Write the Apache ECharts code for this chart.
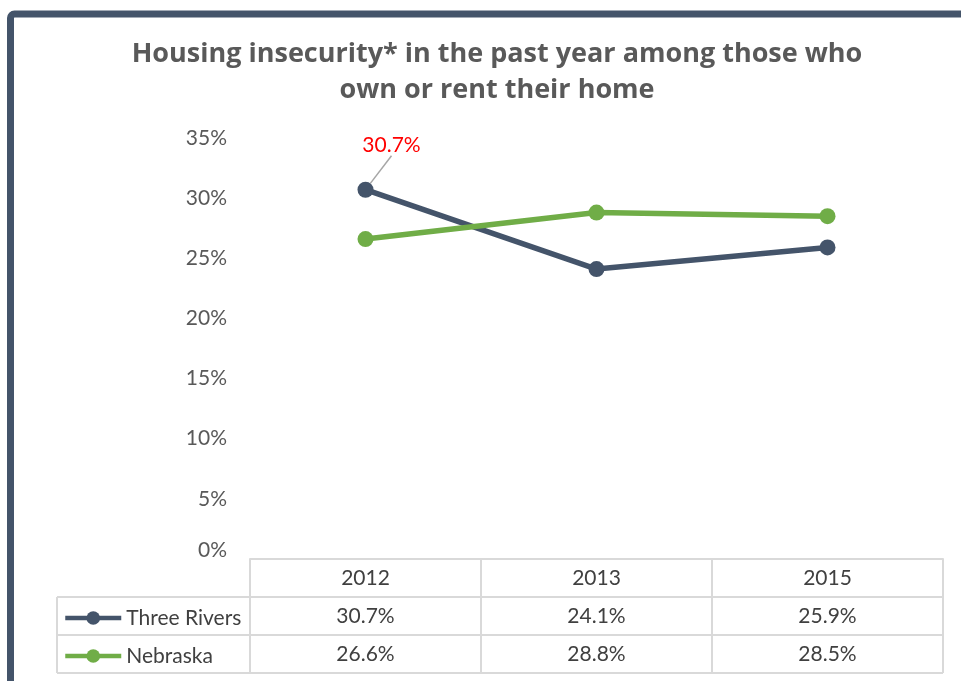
<!DOCTYPE html>
<html>
<head>
<meta charset="utf-8">
<script src="https://cdn.jsdelivr.net/npm/echarts@6/dist/echarts.min.js"></script>
<style>
  html, body { margin: 0; padding: 0; background: #fff; }
  #chart { width: 961px; height: 681px; }
</style>
</head>
<body>
<div id="chart"></div>
<script>
// Survey years and the share of respondents reporting housing insecurity (%)
const years = ['2012', '2013', '2015'];
const threeRivers = [30.7, 24.1, 25.9];
const nebraska = [26.6, 28.8, 28.5];
const seriesNames = ['Three Rivers', 'Nebraska'];
const seriesColors = ['#44546a', '#70ad47'];
const yTicks = { min: 0, max: 35, step: 5 };

const fmt = v => v.toFixed(1) + '%';

// Layout of the plot area and the data table underneath it
const G = { left: 250, right: 18, top: 138, bottom: 122 };
const W = 961, H = 681;
const ROW = 38;          // height of one table row
const TABLE_LEFT = 57;   // left edge of the legend column
const LINE_CLR = '#d9d9d9';
const TXT = '#404040';
const FONT = 'Lato';
const FS = 21;

const chart = echarts.init(document.getElementById('chart'), null, { renderer: 'canvas' });

const axisY = H - G.bottom;      // pixel y of the category axis
const plotRight = W - G.right;

// table borders that the axes do not draw themselves
const tableLines = [];
for (let r = 1; r <= 3; r++) {
  const y = axisY + r * ROW;
  tableLines.push({ type: 'line', shape: { x1: TABLE_LEFT, y1: y, x2: plotRight, y2: y },
    style: { stroke: LINE_CLR, lineWidth: 2 }, silent: true });
}
tableLines.push({ type: 'line', shape: { x1: TABLE_LEFT, y1: axisY + ROW, x2: TABLE_LEFT, y2: axisY + 3 * ROW },
  style: { stroke: LINE_CLR, lineWidth: 2 }, silent: true });

const labelStyle = { fontFamily: FONT, fontSize: FS, color: TXT, margin: 9 };

// one legend entry per table row, placed in the row's first cell
const ICON_H = 17;
const LEGEND_PAD = 5;
const legends = seriesNames.map((name, i) => ({
  orient: 'vertical',
  padding: LEGEND_PAD,
  left: TABLE_LEFT + 6 - LEGEND_PAD,
  top: axisY + (i + 1) * ROW + ROW / 2 - ICON_H / 2 - LEGEND_PAD,
  itemWidth: 56,
  itemHeight: ICON_H,
  data: [name],
  lineStyle: { width: 4.5 },
  textStyle: { fontFamily: FONT, fontSize: FS, color: TXT, lineHeight: ICON_H }
}));

const option = {
  animation: false,
  backgroundColor: '#fff',
  title: {
    text: 'Housing insecurity* in the past year among those who\nown or rent their home',
    left: 492,
    top: 31,
    textAlign: 'center',
    textStyle: {
      fontFamily: 'Open Sans', fontWeight: 'bold', fontSize: 27, lineHeight: 36, color: '#595959'
    }
  },
  legend: legends,
  grid: { left: G.left, right: G.right, top: G.top, bottom: G.bottom, containLabel: false },
  xAxis: [
    {
      type: 'category', data: years, boundaryGap: true,
      axisLine: { show: true, lineStyle: { color: LINE_CLR, width: 2 } },
      axisTick: { show: true, length: 3 * ROW, lineStyle: { color: LINE_CLR, width: 2 } },
      axisLabel: labelStyle,
      splitLine: { show: false }
    },
    {
      type: 'category', data: threeRivers.map(fmt), position: 'bottom', offset: ROW,
      axisLine: { show: false }, axisTick: { show: false }, axisLabel: labelStyle
    },
    {
      type: 'category', data: nebraska.map(fmt), position: 'bottom', offset: 2 * ROW,
      axisLine: { show: false }, axisTick: { show: false }, axisLabel: labelStyle
    }
  ],
  yAxis: {
    type: 'value', min: yTicks.min, max: yTicks.max, interval: yTicks.step,
    axisLine: { show: false }, axisTick: { show: false }, splitLine: { show: false },
    axisLabel: {
      fontFamily: FONT, fontSize: FS, color: '#595959', margin: 23,
      formatter: v => v === 0 ? '{z|0%}' : v + '%',
      rich: { z: { fontFamily: FONT, fontSize: FS, color: '#595959', padding: [0, 0, 18, 0] } }
    }
  },
  series: [
    {
      name: seriesNames[0], type: 'line', xAxisIndex: 0,
      data: threeRivers.map((v, i) => i === 0 ? {
        value: v,
        label: { show: true, formatter: p => fmt(p.value), color: '#ff0000',
          fontFamily: FONT, fontSize: FS, position: 'top' },
        labelLine: { show: true, lineStyle: { color: '#a6a6a6', width: 1.5 } }
      } : v),
      symbol: 'circle', symbolSize: 16,
      itemStyle: { color: seriesColors[0] },
      lineStyle: { color: seriesColors[0], width: 5.5 },
      labelLayout: { dx: 26, dy: -21 },
      z: 3
    },
    {
      name: seriesNames[1], type: 'line', xAxisIndex: 0,
      data: nebraska,
      symbol: 'circle', symbolSize: 16,
      itemStyle: { color: seriesColors[1] },
      lineStyle: { color: seriesColors[1], width: 5.5 },
      z: 4
    }
  ],
  graphic: [
    // chart frame along the top and left edges
    { type: 'rect', shape: { x: 10.5, y: 14, width: 1200, height: 1000, r: 4 },
      style: { fill: 'none', stroke: '#44546a', lineWidth: 7 }, silent: true, z: 0 },
    ...tableLines
  ]
};

chart.setOption(option);
</script>
</body>
</html>
